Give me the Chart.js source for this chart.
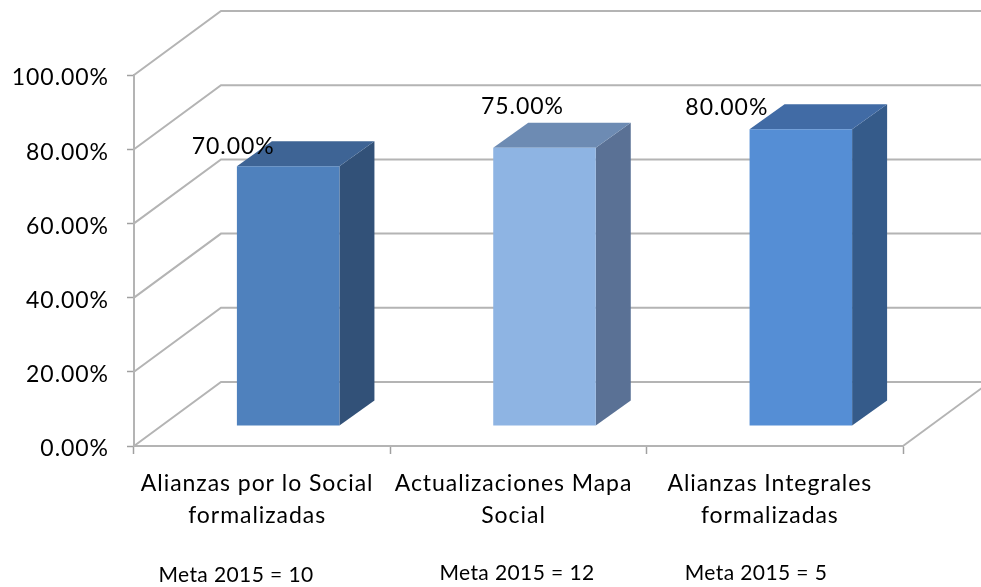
<!DOCTYPE html>
<html>
<head>
<meta charset="utf-8">
<title>Alianzas</title>
<script src="https://cdn.jsdelivr.net/npm/chart.js@4"></script>
<style>
    html, body { margin: 0; padding: 0; background: #fff; }
    canvas { display: block; }
</style>
</head>
<body>
<canvas id="grafico" width="981" height="587"></canvas>
<script>
const categories = [
    ['Alianzas por lo Social', 'formalizadas'],
    ['Actualizaciones Mapa', 'Social'],
    ['Alianzas Integrales', 'formalizadas']
];
const values = [70, 75, 80];
const metas = ['Meta 2015 = 10', 'Meta 2015 = 12', 'Meta 2015 = 5'];
const yTicks = [0, 20, 40, 60, 80, 100];

// colores de cada barra: frente, lado, tapa
const frontColors = ['#4f81bd', '#8eb4e3', '#558ed5'];
const sideColors = ['#325178', '#5a7195', '#355b8a'];
const topColors = ['#3e6495', '#6d8bb3', '#416ba5'];

const fontName = 'Lato, "Open Sans", sans-serif';
const lineColor = '#b4b4b4';

// perspectiva: pared del fondo y profundidad de las barras
const wall = { dx: 87, dy: -64 };
const barShift = { dx: 26, dy: -20 };
const barDepth = { dx: 35, dy: -25 };

// etiquetas sueltas, como cajas de texto del original
const labelShift = [{ x: -55, y: -20 }, { x: -22, y: -41 }, { x: -74, y: -22 }];
const metaPos = [{ x: 236, y: 575 }, { x: 517, y: 573 }, { x: 756, y: 573 }];

const fake3d = {
    id: 'fake3d',
    beforeDraw(chart) {
        // el texto original sale ancho, Lato necesita algo de aire
        chart.ctx.letterSpacing = '0.95px';
    },
    beforeDatasetsDraw(chart) {
        const { ctx, scales: { x, y }, chartArea: area } = chart;
        ctx.save();
        ctx.strokeStyle = lineColor;
        ctx.lineWidth = 2;

        // lineas de la pared y del costado
        yTicks.forEach(function(t) {
            const py = y.getPixelForValue(t);
            ctx.beginPath();
            ctx.moveTo(area.left, py);
            ctx.lineTo(area.left + wall.dx, py + wall.dy);
            ctx.lineTo(chart.width, py + wall.dy);
            ctx.stroke();
        });

        // borde derecho del piso
        const base = y.getPixelForValue(0);
        ctx.beginPath();
        ctx.moveTo(area.right, base);
        ctx.lineTo(area.right + wall.dx, base + wall.dy);
        ctx.stroke();
        ctx.restore();

        // costados y tapas de las barras
        const bars = chart.getDatasetMeta(0).data;
        ctx.save();
        ctx.translate(barShift.dx, barShift.dy);
        bars.forEach(function(bar, i) {
            const left = bar.x - bar.width / 2;
            const right = bar.x + bar.width / 2;
            ctx.fillStyle = sideColors[i];
            ctx.beginPath();
            ctx.moveTo(right, bar.y);
            ctx.lineTo(right + barDepth.dx, bar.y + barDepth.dy);
            ctx.lineTo(right + barDepth.dx, bar.base + barDepth.dy);
            ctx.lineTo(right, bar.base);
            ctx.closePath();
            ctx.fill();

            ctx.fillStyle = topColors[i];
            ctx.beginPath();
            ctx.moveTo(left, bar.y);
            ctx.lineTo(left + barDepth.dx, bar.y + barDepth.dy);
            ctx.lineTo(right + barDepth.dx, bar.y + barDepth.dy);
            ctx.lineTo(right, bar.y);
            ctx.closePath();
            ctx.fill();
        });
        // el frente lo dibuja Chart.js, desplazado hasta afterDatasetsDraw
    },
    afterDatasetsDraw(chart) {
        const ctx = chart.ctx;
        ctx.restore();

        const bars = chart.getDatasetMeta(0).data;
        ctx.save();
        ctx.fillStyle = '#000';
        ctx.textAlign = 'center';
        ctx.textBaseline = 'middle';
        ctx.font = '23px ' + fontName;
        bars.forEach(function(bar, i) {
            const text = values[i].toFixed(2) + '%';
            ctx.fillText(text, bar.x + barShift.dx + labelShift[i].x, bar.y + barShift.dy + labelShift[i].y);
        });
        ctx.font = '21px ' + fontName;
        ctx.letterSpacing = '0.4px';
        metas.forEach(function(text, i) {
            ctx.fillText(text, metaPos[i].x, metaPos[i].y);
        });
        ctx.restore();
    }
};

new Chart(document.getElementById('grafico'), {
    type: 'bar',
    data: {
        labels: categories,
        datasets: [{
            data: values,
            backgroundColor: frontColors,
            borderWidth: 0,
            barPercentage: 0.4,
            categoryPercentage: 1
        }]
    },
    options: {
        responsive: false,
        animation: false,
        layout: { padding: { top: 75, right: 78, left: 0, bottom: 0 } },
        plugins: { legend: { display: false }, tooltip: { enabled: false } },
        scales: {
            x: {
                afterFit: function(scale) { scale.height = 141; },
                border: { color: lineColor, width: 2 },
                grid: { drawOnChartArea: false, color: '#a0a0a0', tickLength: 8, tickWidth: 1.5 },
                ticks: {
                    color: '#000',
                    maxRotation: 0,
                    autoSkip: false,
                    padding: 14,
                    labelOffset: -5,
                    font: { family: fontName, size: 23, lineHeight: 1.39 }
                }
            },
            y: {
                min: 0,
                max: 100,
                afterFit: function(scale) { scale.width = 134; },
                afterBuildTicks: function(scale) {
                    scale.ticks = yTicks.map(function(v) { return { value: v }; });
                },
                border: { color: lineColor, width: 2 },
                grid: { drawOnChartArea: false, color: '#a0a0a0', tickLength: 7, tickWidth: 1.5 },
                ticks: {
                    color: '#000',
                    padding: 18,
                    labelOffset: 3,
                    font: { family: fontName, size: 23 },
                    callback: function(v) { return v.toFixed(2) + '%'; }
                }
            }
        }
    },
    plugins: [fake3d]
});
</script>
</body>
</html>
